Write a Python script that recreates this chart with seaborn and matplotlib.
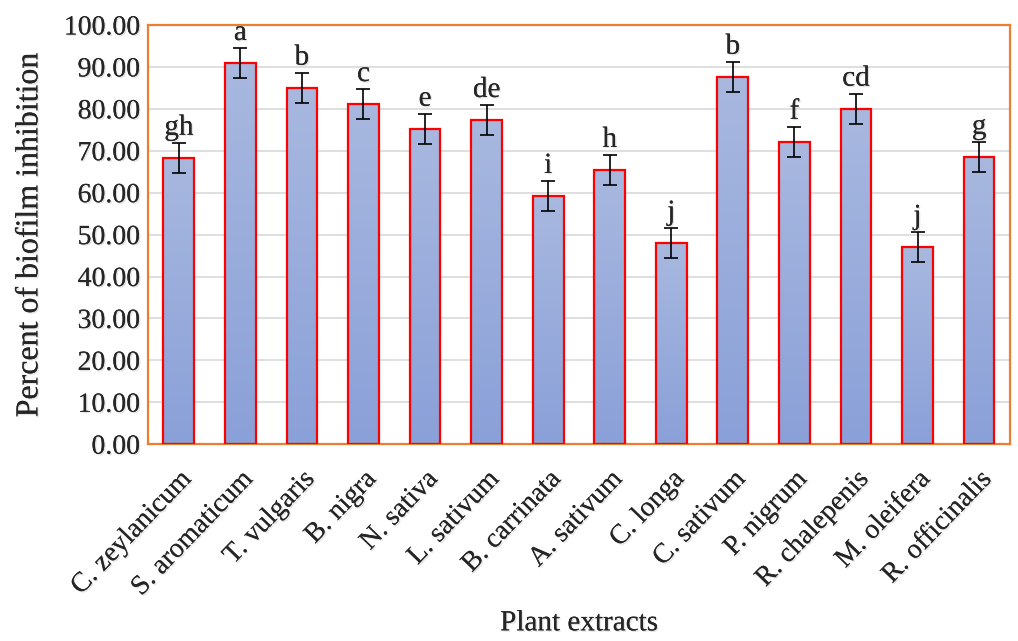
import numpy as np
import pandas as pd
import matplotlib
matplotlib.use('Agg')
import matplotlib.pyplot as plt
import matplotlib.patheffects as pe
import seaborn as sns
from matplotlib.colors import LinearSegmentedColormap

# Data
extracts = ['C. zeylanicum', 'S. aromaticum', 'T. vulgaris', 'B. nigra', 'N. sativa',
            'L. sativum', 'B. carrinata', 'A. sativum', 'C. longa', 'C. sativum',
            'P. nigrum', 'R. chalepenis', 'M. oleifera', 'R. officinalis']
inhibition = [68.3, 90.9, 85.0, 81.1, 75.2, 77.3, 59.2, 65.4, 48.0, 87.6,
              72.1, 80.0, 47.0, 68.5]
errors = [3.6, 3.6, 3.6, 3.6, 3.6, 3.6, 3.6, 3.6, 3.6, 3.6, 3.6, 3.6, 3.6, 3.6]
letters = ['gh', 'a', 'b', 'c', 'e', 'de', 'i', 'h', 'j', 'b', 'f', 'cd', 'j', 'g']

df = pd.DataFrame({'extract': extracts, 'value': inhibition})

sns.set_style('white')
plt.rcParams['font.family'] = ['Liberation Serif', 'DejaVu Serif']

# soft shadow like the original text
shadow = [pe.withSimplePatchShadow(offset=(1, -1), shadow_rgbFace='#909090', alpha=0.25),
          pe.Normal()]

fig = plt.figure(figsize=(10.18, 6.41), dpi=100)
ax = fig.add_axes([0.1454, 0.307, 0.8466, 0.654])

sns.barplot(data=df, x='extract', y='value', width=0.5, color='#9AAEDC',
            edgecolor='#FF0000', linewidth=1.6, errorbar=None, ax=ax, zorder=2)

# gradient fill inside each bar
cmap = LinearSegmentedColormap.from_list('grad', ['#8AA0D8', '#A8B8DF'])
grad = np.linspace(0, 1, 256).reshape(-1, 1)
for patch in ax.patches:
    x0, y0 = patch.get_x(), patch.get_y()
    w, h = patch.get_width(), patch.get_height()
    im = ax.imshow(grad, cmap=cmap, aspect='auto', origin='lower',
                   extent=[x0, x0 + w, y0, y0 + h], zorder=2.5)
    im.set_clip_path(patch)
    patch.set_facecolor('none')
    patch.set_zorder(3)

xpos = np.arange(len(extracts))
ax.errorbar(xpos, inhibition, yerr=errors, fmt='none', ecolor='black',
            elinewidth=1.2, capsize=5, capthick=1.2, zorder=4)

for x, v, e, lab in zip(xpos, inhibition, errors, letters):
    ax.text(x, v + e + 0.5, lab, ha='center', va='bottom', fontsize=21, zorder=5,
            path_effects=shadow)

ax.set_xlim(-0.5, len(extracts) - 0.5)
ax.set_ylim(0, 100)
ax.set_yticks(np.arange(0, 101, 10))
ax.set_yticklabels([f'{t:.2f}' for t in np.arange(0, 101, 10)], fontsize=20)
ax.yaxis.grid(True, color='#D9D9D9', linewidth=1.2, zorder=0)
ax.set_axisbelow(True)
ax.tick_params(axis='y', length=0, pad=6)
ax.tick_params(axis='x', length=0, pad=16)
plt.setp(ax.get_xticklabels(), rotation=46, ha='right', rotation_mode='anchor', fontsize=20)
for t in ax.get_xticklabels() + ax.get_yticklabels():
    t.set_path_effects(shadow)

for s in ax.spines.values():
    s.set_color('#ED7D31')
    s.set_linewidth(1.6)
    s.set_visible(True)

ax.set_xlabel('Plant extracts', fontsize=21, labelpad=7, path_effects=shadow)
ax.set_ylabel('Percent of biofilm inhibition', fontsize=23, labelpad=14, path_effects=shadow)

fig.savefig('out.png', dpi=100)
